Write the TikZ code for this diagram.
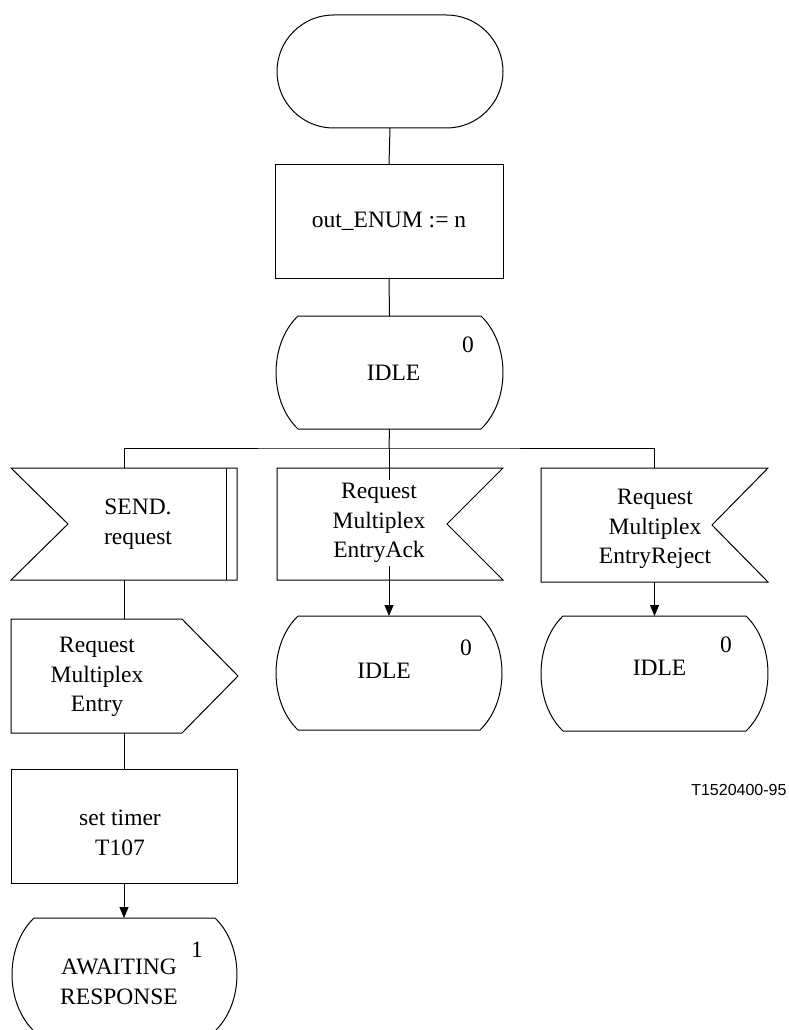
\documentclass[tikz,border=0pt]{standalone}
\usepackage{fontspec}
\setmainfont{Liberation Serif}
\newfontfamily\labelfont{Liberation Sans}
\usetikzlibrary{shapes.misc,arrows.meta,calc}
\newcommand\mainsz{\fontsize{23.5}{29.5}\selectfont}
% outline macros for SDL symbols drawn around invisible named frame nodes
\newcommand\mystate[1]{%
  \draw ($(#1.north west)+(22,0)$) -- ($(#1.north east)+(-22,0)$)
    .. controls ($(#1.north east)+(7.3,28)$) and ($(#1.south east)+(7.3,-28)$) .. ($(#1.south east)+(-22,0)$)
    -- ($(#1.south west)+(22,0)$)
    .. controls ($(#1.south west)+(-7.3,-28)$) and ($(#1.north west)+(-7.3,28)$) .. cycle;}
\newcommand\myinL[1]{%
  \draw (#1.north west) -- (#1.north east) -- (#1.south east) -- (#1.south west) -- ($(#1.west)+(57,0)$) -- cycle;
  \draw ($(#1.north east)+(-11,0)$) -- ($(#1.south east)+(-11,0)$);}
\newcommand\myinR[1]{%
  \draw (#1.north west) -- (#1.north east) -- ($(#1.east)+(-56,0)$) -- (#1.south east) -- (#1.south west) -- cycle;}
\newcommand\myout[1]{%
  \draw (#1.north west) -- ($(#1.north east)+(-56,0)$) -- (#1.east) -- ($(#1.south east)+(-56,0)$) -- (#1.south west) -- cycle;}
\begin{document}
\begin{tikzpicture}[x=1pt,y=-1pt,line width=1pt,font=\mainsz,
  frame/.style={inner sep=0pt,outer sep=0pt,minimum width=#1},
  frame/.default=226pt,
  taskbox/.style={draw,inner sep=0pt,outer sep=0pt,minimum width=227pt,minimum height=114pt,align=center},
  terminal/.style={draw,rounded rectangle,inner sep=0pt,outer sep=0pt,minimum width=226pt,minimum height=113pt},
  txt/.style={inner sep=0pt,align=center},
  arr/.style={-{Triangle[length=11pt,width=9pt]}}]
\useasboundingbox (0,0) rectangle (788,1030);

% nodes
\node[terminal] (term) at (390,71.5) {};
\node[taskbox,minimum width=228pt] (task1) at (389,221) {out\_ENUM := n};
\node[frame=227pt,minimum height=113pt] (idle0) at (389.5,372.5) {};
\coordinate (br) at (389,448);
\node[frame=226pt,minimum height=112pt] (send) at (124,524) {};
\node[frame=226pt,minimum height=112pt] (ack) at (390,524) {};
\node[frame=227pt,minimum height=114pt] (rej) at (654.5,525) {};
\node[frame=226pt,minimum height=114pt] (idle1) at (389,673) {};
\node[frame=227pt,minimum height=115pt] (idle2) at (654.5,673.5) {};
\node[frame=227pt,minimum height=114pt] (out) at (124.5,676) {};
\node[taskbox,minimum width=226pt] (timer) at (124,826) {};
\node[frame=225pt,minimum height=113pt] (await) at (124.5,974.5) {};

% symbol outlines
\mystate{idle0}
\myinL{send}
\myinR{ack}
\myinR{rej}
\mystate{idle1}
\mystate{idle2}
\myout{out}
\mystate{await}

% connectors
\draw (term.south) -- (task1.north);
\draw (task1.south) -- (idle0.north);
\draw (idle0.south) -- (br);
\draw (send.north) |- (br) -| (rej.north);
\draw[arr] (br) -- (br |- idle1.north);
\draw[arr] (rej.south) -- (rej.south |- idle2.north);
\draw (send.south) -- (send.south |- out.north);
\draw (out.south) -- (out.south |- timer.north);
\draw[arr] (timer.south) -- (timer.south |- await.north);

% texts
\node[txt] (idle0T) at (393.5,372.5) {IDLE};
\node[txt] (idle0N) at (468,345) {0};
\node[txt] (sendT) at (138,524) {SEND.\\request};
\node[txt,fill=white,inner ysep=3pt] (ackT) at (379,523) {Request\\Multiplex\\EntryAck};
\node[txt] (rejT) at (655,529) {Request\\Multiplex\\EntryReject};
\node[txt] (idle1T) at (384,671) {IDLE};
\node[txt] (idle1N) at (466,648) {0};
\node[txt] (idle2T) at (659.5,667.5) {IDLE};
\node[txt] (idle2N) at (726,645) {0};
\node[txt] (outT) at (97,677) {Request\\Multiplex\\Entry};
\node[txt] (timerT) at (120,833) {set timer\\T107};
\node[txt] (awaitT) at (119,982) {AWAITING\\RESPONSE};
\node[txt] (awaitN) at (197,950) {1};
\node[inner sep=0pt,anchor=east,font=\labelfont\fontsize{16}{18}\selectfont] (fig) at (787,790) {T1520400-95};
\end{tikzpicture}
\end{document}
